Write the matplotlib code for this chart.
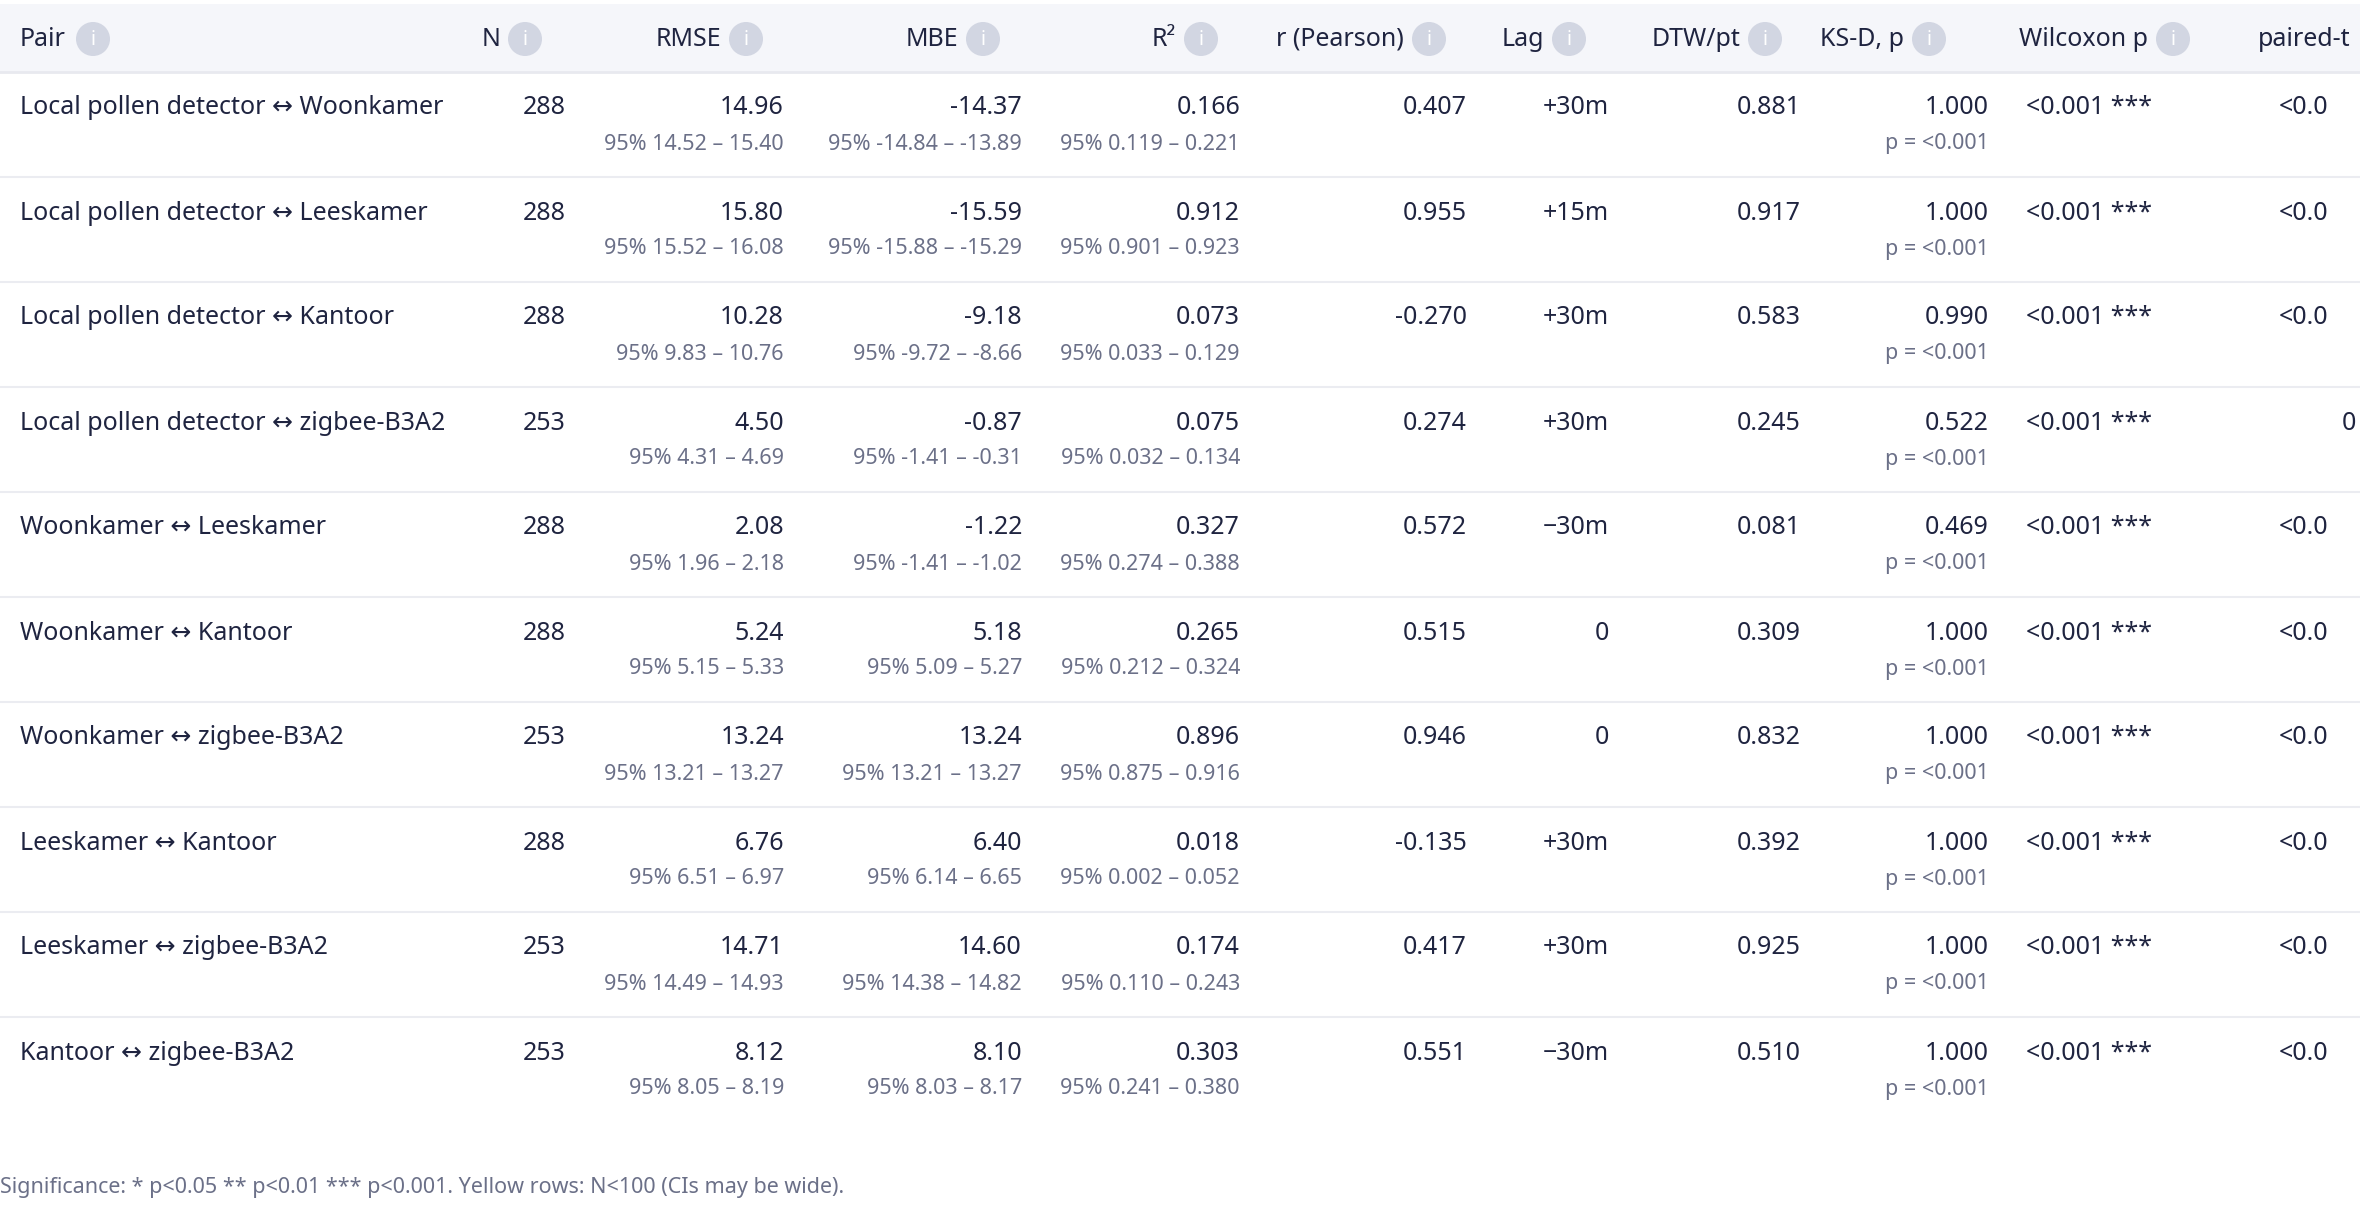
import matplotlib.pyplot as plt
from matplotlib.patches import Circle, Rectangle

plt.rcParams['font.family'] = ['Noto Sans', 'DejaVu Sans']

pairs = ['Local pollen detector ↔ Woonkamer', 'Local pollen detector ↔ Leeskamer',
         'Local pollen detector ↔ Kantoor', 'Local pollen detector ↔ zigbee-B3A2',
         'Woonkamer ↔ Leeskamer', 'Woonkamer ↔ Kantoor', 'Woonkamer ↔ zigbee-B3A2',
         'Leeskamer ↔ Kantoor', 'Leeskamer ↔ zigbee-B3A2', 'Kantoor ↔ zigbee-B3A2']
n_vals = [288, 288, 288, 253, 288, 288, 253, 288, 253, 253]
rmse = ['14.96', '15.80', '10.28', '4.50', '2.08', '5.24', '13.24', '6.76', '14.71', '8.12']
rmse_ci = ['14.52 – 15.40', '15.52 – 16.08', '9.83 – 10.76', '4.31 – 4.69', '1.96 – 2.18',
           '5.15 – 5.33', '13.21 – 13.27', '6.51 – 6.97', '14.49 – 14.93', '8.05 – 8.19']
mbe = ['-14.37', '-15.59', '-9.18', '-0.87', '-1.22', '5.18', '13.24', '6.40', '14.60', '8.10']
mbe_ci = ['-14.84 – -13.89', '-15.88 – -15.29', '-9.72 – -8.66', '-1.41 – -0.31', '-1.41 – -1.02',
          '5.09 – 5.27', '13.21 – 13.27', '6.14 – 6.65', '14.38 – 14.82', '8.03 – 8.17']
r2 = ['0.166', '0.912', '0.073', '0.075', '0.327', '0.265', '0.896', '0.018', '0.174', '0.303']
r2_ci = ['0.119 – 0.221', '0.901 – 0.923', '0.033 – 0.129', '0.032 – 0.134', '0.274 – 0.388',
         '0.212 – 0.324', '0.875 – 0.916', '0.002 – 0.052', '0.110 – 0.243', '0.241 – 0.380']
pearson = ['0.407', '0.955', '-0.270', '0.274', '0.572', '0.515', '0.946', '-0.135', '0.417', '0.551']
lag = ['+30m', '+15m', '+30m', '+30m', '−30m', '0', '0', '+30m', '+30m', '−30m']
dtw = ['0.881', '0.917', '0.583', '0.245', '0.081', '0.309', '0.832', '0.392', '0.925', '0.510']
ks_d = ['1.000', '1.000', '0.990', '0.522', '0.469', '1.000', '1.000', '1.000', '1.000', '1.000']
wilcoxon = ['<0.001 ***'] * 10
# the page cuts this column off at the right edge
paired_t = ['<0.0', '<0.0', '<0.0', '0', '<0.0', '<0.0', '<0.0', '<0.0', '<0.0', '<0.0']

headers = ['Pair', 'N', 'RMSE', 'MBE', 'R²', 'r (Pearson)', 'Lag', 'DTW/pt', 'KS-D, p', 'Wilcoxon p', 'paired-t']

W, H = 2360, 1206
fig = plt.figure(figsize=(W / 100, H / 100), dpi=100)
ax = fig.add_axes([0, 0, 1, 1])
ax.set_xlim(0, W)
ax.set_ylim(H, 0)
ax.axis('off')

dark = '#1f2440'
muted = '#6b7088'
fs, fs2 = 18, 15.5
r_icon = 17


def icon(cx):
    ax.add_patch(Circle((cx, 39), r_icon, color='#d2d6e2', lw=0))
    ax.text(cx, 40, 'i', ha='center', va='center', fontsize=14, color='white', fontweight='bold')


# header band
ax.add_patch(Rectangle((0, 4), W, 68, color='#f5f6fa', lw=0))
ax.plot([0, W], [72, 72], color='#e8e9ef', lw=2)

ax.text(20, 39, headers[0], ha='left', va='center', fontsize=fs, color=dark)
icon(93)
icon_right = [542, 763, 1000, 1218, 1446, 1586, 1782, 1946, 2190]
for lbl, xr in zip(headers[1:-1], icon_right):
    cx = xr - r_icon
    icon(cx)
    ax.text(cx - r_icon - 8, 39, lbl, ha='right', va='center', fontsize=fs, color=dark)
ax.text(2258, 39, headers[-1], ha='left', va='center', fontsize=fs, color=dark)

right_x = dict(n=566, rmse=784, mbe=1022, r2=1240, r=1467, lag=1609, dtw=1801, ks=1989)
row_h = 105
for i in range(len(pairs)):
    top = 72 + i * row_h
    y1 = top + 36
    y2 = top + 72
    ax.text(20, y1, pairs[i], ha='left', va='center', fontsize=fs, color=dark)
    ax.text(right_x['n'], y1, str(n_vals[i]), ha='right', va='center', fontsize=fs, color=dark)
    for key, v, ci in [('rmse', rmse, rmse_ci), ('mbe', mbe, mbe_ci), ('r2', r2, r2_ci)]:
        ax.text(right_x[key], y1, v[i], ha='right', va='center', fontsize=fs, color=dark)
        ax.text(right_x[key], y2, '95% ' + ci[i], ha='right', va='center', fontsize=fs2, color=muted)
    ax.text(right_x['r'], y1, pearson[i], ha='right', va='center', fontsize=fs, color=dark)
    ax.text(right_x['lag'], y1, lag[i], ha='right', va='center', fontsize=fs, color=dark)
    ax.text(right_x['dtw'], y1, dtw[i], ha='right', va='center', fontsize=fs, color=dark)
    ax.text(right_x['ks'], y1, ks_d[i], ha='right', va='center', fontsize=fs, color=dark)
    ax.text(right_x['ks'], y2, 'p = <0.001', ha='right', va='center', fontsize=fs2, color=muted)
    ax.text(2026, y1, wilcoxon[i], ha='left', va='center', fontsize=fs, color=dark)
    tx = 2279 if paired_t[i].startswith('<') else 2342
    ax.text(tx, y1, paired_t[i], ha='left', va='center', fontsize=fs, color=dark)
    if i < len(pairs) - 1:
        ax.plot([0, W], [top + row_h, top + row_h], color='#ebecf1', lw=1.5)

ax.text(0, 1187, 'Significance: * p<0.05 ** p<0.01 *** p<0.001. Yellow rows: N<100 (CIs may be wide).',
        ha='left', va='center', fontsize=15.5, color=muted)

fig.savefig('out.png', dpi=100, facecolor='white')
